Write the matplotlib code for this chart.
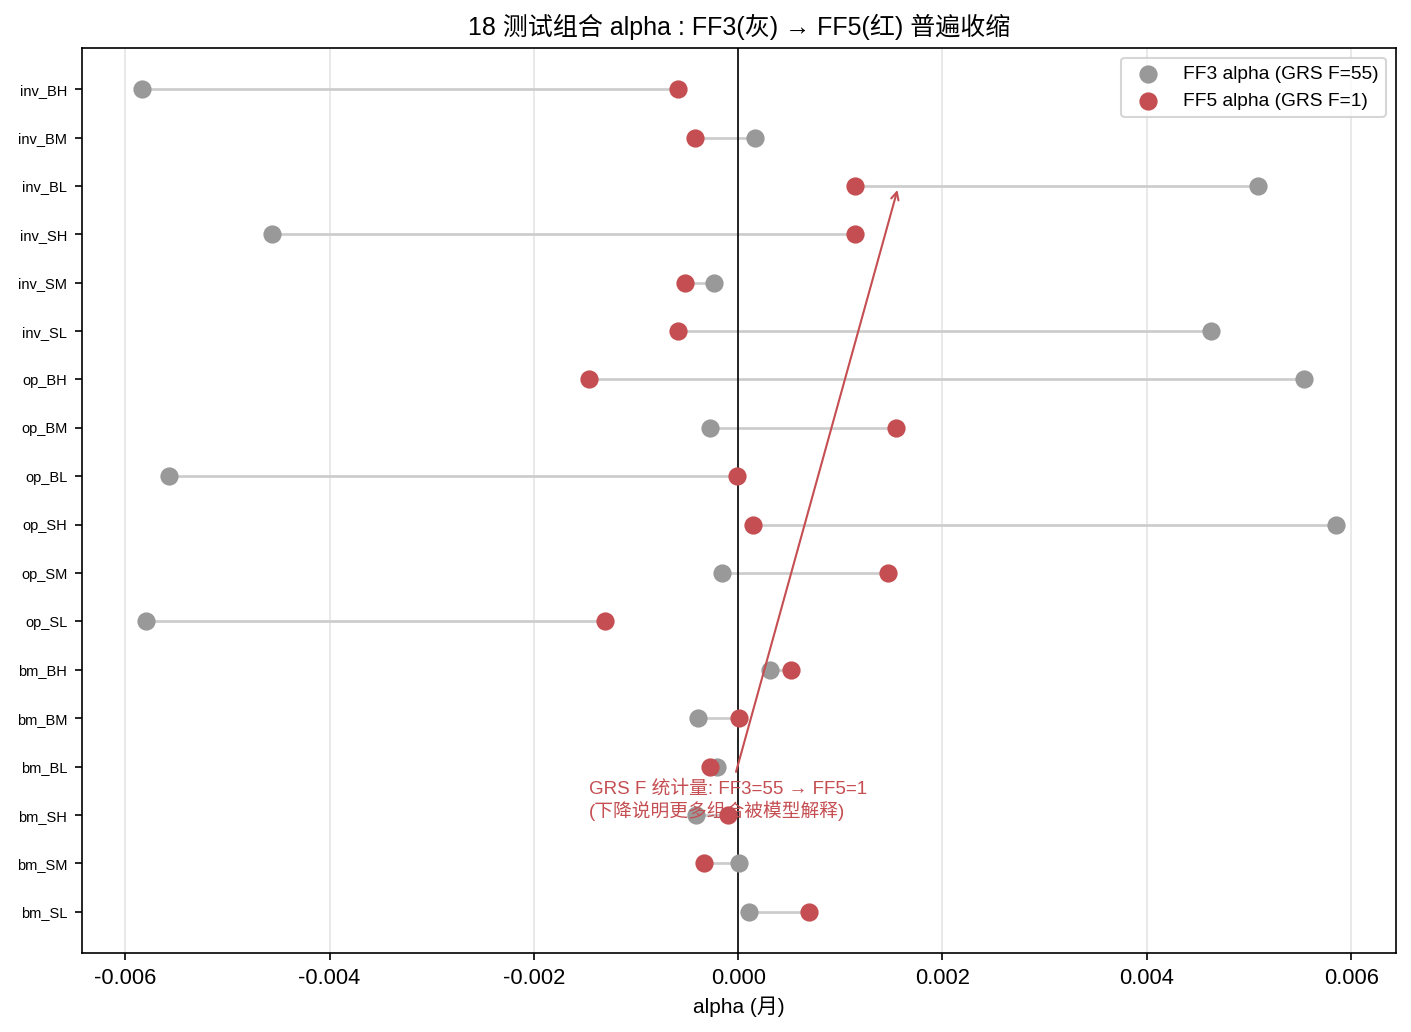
import matplotlib
matplotlib.use("Agg")
import matplotlib.pyplot as plt

plt.rcParams["font.family"] = ["Liberation Sans", "Noto Sans CJK SC", "DejaVu Sans"]
plt.rcParams["axes.unicode_minus"] = False

portfolios = [
    "inv_BH", "inv_BM", "inv_BL", "inv_SH", "inv_SM", "inv_SL",
    "op_BH", "op_BM", "op_BL", "op_SH", "op_SM", "op_SL",
    "bm_BH", "bm_BM", "bm_BL", "bm_SH", "bm_SM", "bm_SL",
]
ff3_alpha = [
    -0.00584, 0.000166, 0.00509, -0.00456, -0.000235, 0.00463,
    0.00554, -0.000274, -0.00557, 0.00585, -0.000157, -0.00580,
    0.000313, -0.00039, -0.000205, -0.00041, 0.00001, 0.000108,
]
ff5_alpha = [
    -0.000587, -0.00042, 0.001145, 0.001145, -0.00052, -0.000587,
    -0.001458, 0.001546, -0.00001, 0.000147, 0.001468, -0.00130,
    0.000519, 0.00001, -0.000274, -0.0001, -0.00033, 0.000695,
]
grs_ff3 = 55
grs_ff5 = 1

GRAY = "#999999"
RED = "#C44E52"

fig, ax = plt.subplots(figsize=(9.407, 6.88), dpi=150)
ypos = list(range(len(portfolios)))

# dumbbell lines FF3 -> FF5
for y, a3, a5 in zip(ypos, ff3_alpha, ff5_alpha):
    ax.plot([a3, a5], [y, y], color="#cccccc", lw=1.3, zorder=1)
ax.scatter(ff3_alpha, ypos, s=60, color=GRAY, zorder=3,
           label=f"FF3 alpha (GRS F={grs_ff3})")
ax.scatter(ff5_alpha, ypos, s=60, color=RED, zorder=4,
           label=f"FF5 alpha (GRS F={grs_ff5})")
ax.axvline(0, color="black", lw=0.8, zorder=2)

ax.set_yticks(ypos)
ax.set_yticklabels(portfolios, fontsize=7)
ax.tick_params(axis="x", labelsize=10.5)
ax.invert_yaxis()
ax.grid(axis="x", color="#e5e5e5", lw=0.8)
ax.set_axisbelow(True)
ax.set_xlabel("alpha (月)", fontsize=10)
ax.set_title("18 测试组合 alpha : FF3(灰) → FF5(红) 普遍收缩", fontsize=12)
ax.legend(loc="upper right", fontsize=9.2)

ax.annotate(f"GRS F 统计量: FF3={grs_ff3} → FF5={grs_ff5}\n(下降说明更多组合被模型解释)",
            xy=(0.00157, 2.0), xytext=(-0.00146, 14.7),
            fontsize=9, color=RED, ha="left", va="center",
            arrowprops=dict(arrowstyle="->", color=RED, lw=1))

fig.subplots_adjust(left=0.058, right=0.989, top=0.9535, bottom=0.0766)
fig.savefig("out.png", dpi=150)
